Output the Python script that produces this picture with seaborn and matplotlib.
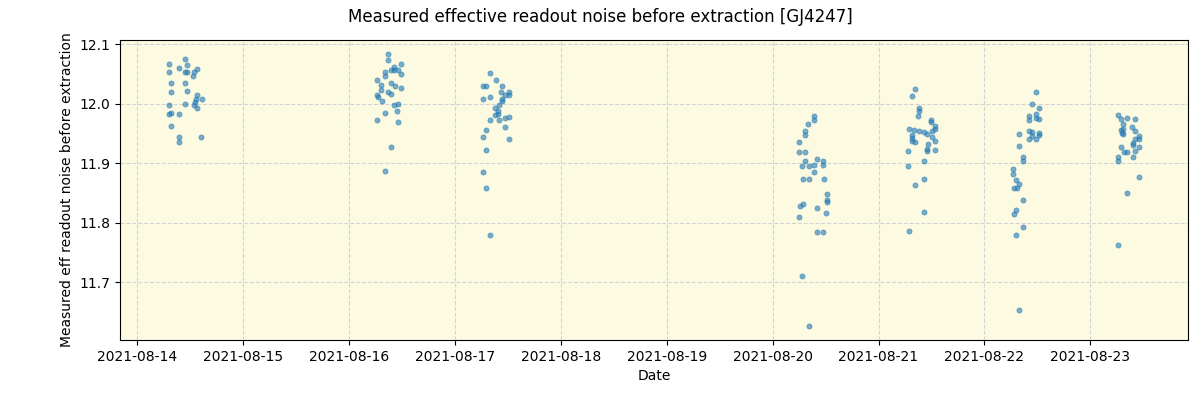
import matplotlib
matplotlib.use("Agg")
import matplotlib.pyplot as plt
import matplotlib.dates as mdates
import numpy as np
import pandas as pd
import seaborn as sns

# Hours since 2021-08-14 00:00 and measured noise values per night
n1_hours = [7.10, 10.73, 9.37, 11.34, 7.10, 10.73, 11.18, 12.86, 13.45, 12.70, 7.55, 10.73, 11.18, 7.55,
            13.45, 14.68, 13.32, 7.10, 10.73, 12.86, 13.00, 13.45, 7.10, 7.55, 9.37, 7.55, 9.37, 9.37, 14.52]
n1_vals = [12.066, 12.075, 12.060, 12.065, 12.054, 12.053, 12.053, 12.053, 12.058, 12.047, 12.034, 12.034,
           12.022, 12.019, 12.015, 12.008, 12.008, 11.998, 12.000, 11.997, 12.003, 11.993, 11.983, 11.985,
           11.983, 11.963, 11.944, 11.936, 11.944]

n2_hours = [56.78, 56.78, 58.14, 59.73, 56.10, 56.10, 57.46, 58.14, 59.05, 59.73, 54.28, 55.19, 57.46, 58.37,
            59.73, 55.19, 56.78, 57.46, 54.28, 54.51, 55.42, 59.05, 58.14, 58.82, 56.10, 54.28, 59.05, 57.46,
            56.10]
n2_vals = [12.084, 12.074, 12.062, 12.066, 12.054, 12.047, 12.056, 12.057, 12.056, 12.049, 12.040, 12.032,
           12.034, 12.029, 12.026, 12.023, 12.019, 12.017, 12.015, 12.012, 12.005, 12.000, 11.997, 11.988,
           11.985, 11.973, 11.970, 11.927, 11.887]

n3_hours = [79.92, 81.28, 78.33, 79.01, 82.64, 82.41, 84.23, 84.23, 83.32, 79.92, 78.33, 82.64, 82.64, 81.96,
            81.05, 81.73, 81.05, 81.73, 83.32, 84.23, 79.92, 81.96, 83.32, 79.01, 78.33, 84.23, 79.01, 78.33,
            79.01, 79.92]
n3_vals = [12.051, 12.040, 12.029, 12.029, 12.029, 12.020, 12.019, 12.015, 12.015, 12.012, 12.007, 12.008,
           12.005, 11.997, 11.993, 11.987, 11.981, 11.983, 11.976, 11.978, 11.973, 11.973, 11.960, 11.955,
           11.944, 11.941, 11.922, 11.885, 11.858, 11.779]

n4_hours = [153.41, 153.41, 152.05, 151.37, 151.37, 150.01, 150.01, 151.37, 151.37, 154.09, 155.45, 150.69,
            152.28, 153.41, 155.45, 153.41, 150.92, 152.28, 155.68, 156.36, 156.36, 156.36, 150.24, 150.92,
            154.09, 156.13, 150.01, 154.09, 155.45, 150.69, 152.28]
n4_vals = [11.980, 11.973, 11.966, 11.954, 11.948, 11.936, 11.919, 11.919, 11.904, 11.907, 11.904, 11.895,
           11.895, 11.897, 11.897, 11.885, 11.874, 11.874, 11.874, 11.848, 11.838, 11.835, 11.828, 11.831,
           11.825, 11.816, 11.810, 11.784, 11.784, 11.710, 11.626]

n5_hours = [176.32, 175.64, 177.23, 177.23, 177.00, 179.95, 179.95, 180.86, 180.86, 174.96, 176.10, 177.23,
            178.36, 179.04, 180.18, 180.18, 175.64, 175.64, 175.64, 176.32, 180.86, 179.27, 179.04, 179.04,
            180.86, 174.74, 178.36, 174.74, 178.36, 176.32, 178.36, 174.96]
n5_vals = [12.025, 12.013, 11.992, 11.988, 11.980, 11.973, 11.970, 11.963, 11.958, 11.958, 11.956, 11.954,
           11.953, 11.949, 11.954, 11.944, 11.948, 11.943, 11.938, 11.936, 11.938, 11.933, 11.924, 11.921,
           11.922, 11.921, 11.904, 11.895, 11.874, 11.863, 11.818, 11.786]

n6_hours = [203.77, 202.86, 204.45, 202.18, 203.77, 203.77, 204.45, 202.18, 202.18, 202.86, 199.91, 204.45,
            204.45, 202.86, 203.77, 202.18, 199.91, 200.82, 200.82, 198.55, 198.55, 199.23, 199.91, 198.78,
            199.46, 200.82, 199.23, 198.78, 200.82, 199.23, 199.91]
n6_vals = [12.020, 12.000, 11.992, 11.980, 11.983, 11.976, 11.975, 11.973, 11.954, 11.953, 11.949, 11.951,
           11.948, 11.946, 11.941, 11.941, 11.929, 11.911, 11.904, 11.890, 11.882, 11.872, 11.865, 11.858,
           11.858, 11.838, 11.821, 11.815, 11.793, 11.779, 11.654]

n7_hours = [222.37, 223.05, 224.41, 226.23, 223.51, 225.55, 223.05, 223.51, 226.23, 223.28, 223.51, 227.13,
            226.23, 227.13, 225.78, 225.78, 223.05, 227.13, 223.73, 224.41, 226.23, 222.37, 225.78, 222.37,
            227.13, 224.41, 222.37]
n7_vals = [11.981, 11.975, 11.976, 11.975, 11.966, 11.961, 11.956, 11.958, 11.954, 11.951, 11.949, 11.946,
           11.941, 11.941, 11.934, 11.931, 11.927, 11.927, 11.919, 11.919, 11.921, 11.911, 11.911, 11.904,
           11.877, 11.850, 11.762]

start = pd.Timestamp("2021-08-14")
hours = n1_hours + n2_hours + n3_hours + n4_hours + n5_hours + n6_hours + n7_hours
vals = n1_vals + n2_vals + n3_vals + n4_vals + n5_vals + n6_vals + n7_vals
df = pd.DataFrame({"Date": start + pd.to_timedelta(hours, unit="h"), "noise": vals})

fig, ax = plt.subplots(figsize=(12, 4), dpi=100)
fig.subplots_adjust(left=0.1, right=0.99, top=0.9, bottom=0.15)
ax.set_facecolor("#fcfbe2")
sns.scatterplot(data=df, x="Date", y="noise", ax=ax, s=14, alpha=0.6,
                color="tab:blue", edgecolor="tab:blue", linewidth=0.5, zorder=3)
ax.grid(True, linestyle="--", color="lightgray", linewidth=0.8, zorder=0)
ax.set_axisbelow(True)
ax.xaxis.set_major_locator(mdates.DayLocator())
ax.xaxis.set_major_formatter(mdates.DateFormatter("%Y-%m-%d"))
ax.set_xlabel("Date")
ax.set_ylabel("Measured eff readout noise before extraction")
fig.suptitle("Measured effective readout noise before extraction [GJ4247]", fontsize=12)
fig.savefig("out.png")
